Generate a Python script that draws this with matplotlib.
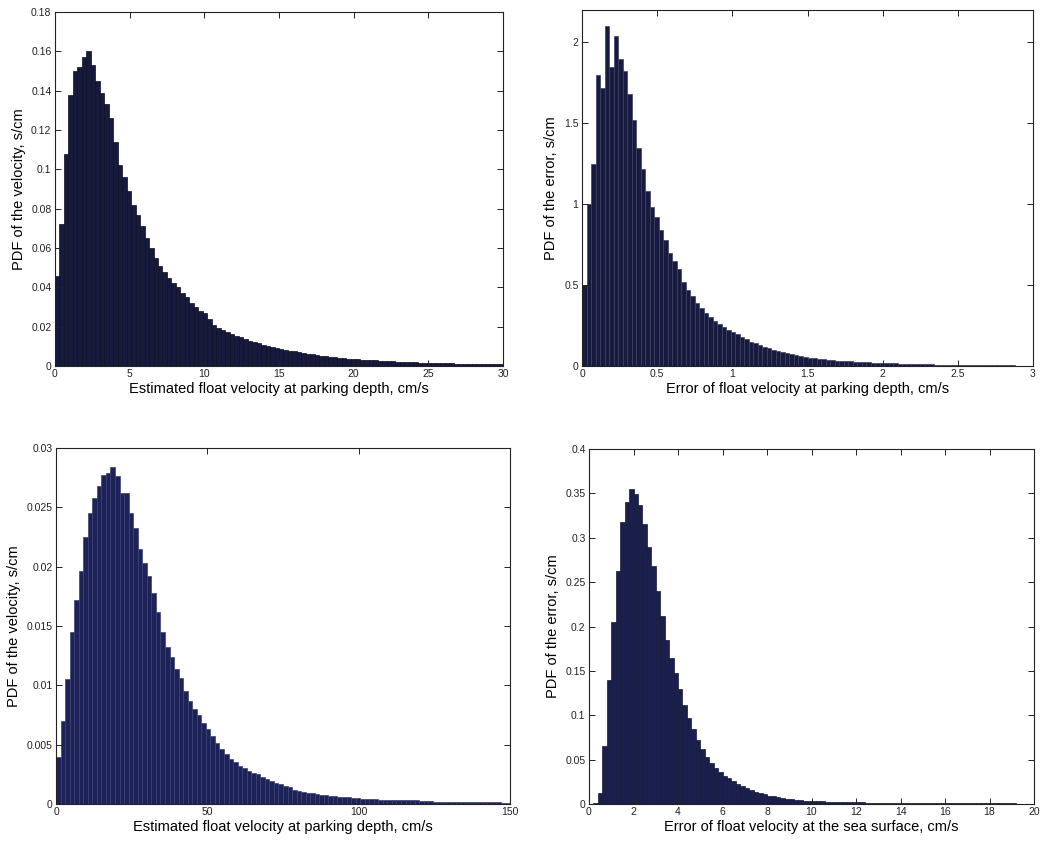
import numpy as np
import matplotlib
matplotlib.use("Agg")
import matplotlib.pyplot as plt
from matplotlib.ticker import FuncFormatter, MultipleLocator

plt.rcParams["font.family"] = ["Liberation Sans", "DejaVu Sans"]

# ---------------------------------------------------------------------------
# Histogram data (PDF per bin), 100 equal bins per panel
# ---------------------------------------------------------------------------
park_vel_range = (0.0, 30.0)
park_vel_pdf = [
    0.046, 0.072, 0.108, 0.138, 0.150, 0.152, 0.157, 0.160, 0.153, 0.145,
    0.139, 0.133, 0.126, 0.114, 0.102, 0.096, 0.089, 0.082, 0.077, 0.071,
    0.065, 0.060, 0.055, 0.051, 0.048, 0.045, 0.042, 0.040, 0.037, 0.035,
    0.032, 0.030, 0.028, 0.027, 0.024, 0.021, 0.0195, 0.0185, 0.0175, 0.0165,
    0.0155, 0.0148, 0.0135, 0.0128, 0.0122, 0.0116, 0.0108, 0.0102, 0.0097, 0.0092,
    0.0088, 0.0083, 0.0078, 0.0074, 0.0070, 0.0066, 0.0062, 0.0059, 0.0056, 0.0053,
    0.0050, 0.0047, 0.0045, 0.0043, 0.0040, 0.0038, 0.0036, 0.0034, 0.0032, 0.0031,
    0.0032, 0.0028, 0.0027, 0.0025, 0.0024, 0.0023, 0.0022, 0.0021, 0.0020, 0.0019,
    0.0018, 0.0017, 0.0017, 0.0016, 0.0015, 0.0015, 0.0014, 0.0013, 0.0013, 0.0012,
    0.0012, 0.0011, 0.0011, 0.0010, 0.0010, 0.0009, 0.0009, 0.0009, 0.0008, 0.0008,
]

park_err_range = (0.0, 3.0)
park_err_pdf = [
    0.50, 1.00, 1.25, 1.80, 1.72, 2.10, 1.85, 2.04, 1.90, 1.82,
    1.68, 1.52, 1.35, 1.22, 1.08, 0.98, 0.92, 0.84, 0.78, 0.70,
    0.65, 0.60, 0.52, 0.47, 0.43, 0.39, 0.36, 0.33, 0.30, 0.28,
    0.26, 0.24, 0.22, 0.21, 0.20, 0.18, 0.165, 0.15, 0.14, 0.13,
    0.12, 0.11, 0.10, 0.092, 0.085, 0.078, 0.072, 0.066, 0.061, 0.056,
    0.052, 0.048, 0.045, 0.042, 0.039, 0.036, 0.034, 0.032, 0.030, 0.028,
    0.026, 0.024, 0.023, 0.022, 0.021, 0.020, 0.019, 0.018, 0.017, 0.016,
    0.015, 0.014, 0.015, 0.013, 0.012, 0.011, 0.010, 0.0095, 0.009, 0.0085,
    0.008, 0.0075, 0.007, 0.0066, 0.0062, 0.0058, 0.0055, 0.0052, 0.0049, 0.0046,
    0.0043, 0.0040, 0.0038, 0.0036, 0.0034, 0.0032, 0.0030, 0.0029, 0.0028, 0.0027,
]

surf_vel_range = (0.0, 150.0)
surf_vel_pdf = [
    0.0040, 0.0070, 0.0105, 0.0145, 0.0172, 0.0196, 0.0225, 0.0245, 0.0258, 0.0268,
    0.0277, 0.0279, 0.0284, 0.0276, 0.0262, 0.0262, 0.0245, 0.0233, 0.0215, 0.0203,
    0.0192, 0.0178, 0.0162, 0.0145, 0.0132, 0.0124, 0.0114, 0.0106, 0.0095, 0.0087,
    0.0080, 0.0075, 0.0068, 0.0063, 0.0057, 0.0051, 0.0046, 0.0042, 0.0038, 0.0035,
    0.0032, 0.0030, 0.0028, 0.0026, 0.0025, 0.0023, 0.0021, 0.0019, 0.0018, 0.0017,
    0.0015, 0.0014, 0.0012, 0.0011, 0.0010, 0.00095, 0.0009, 0.00085, 0.0008, 0.00075,
    0.0007, 0.00065, 0.0006, 0.00058, 0.00055, 0.0005, 0.00048, 0.00045, 0.00042, 0.0004,
    0.00038, 0.00037, 0.00036, 0.00035, 0.00034, 0.00034, 0.00033, 0.00036, 0.00033, 0.0003,
    0.00026, 0.00024, 0.00022, 0.0002, 0.0002, 0.00018, 0.00018, 0.00017, 0.00016, 0.00016,
    0.00015, 0.00015, 0.00014, 0.00014, 0.00014, 0.00013, 0.00013, 0.00013, 0.00012, 0.00012,
]

surf_err_range = (0.0, 20.0)
surf_err_pdf = [
    0.0, 0.001, 0.012, 0.065, 0.140, 0.205, 0.262, 0.318, 0.340, 0.355,
    0.349, 0.337, 0.315, 0.290, 0.268, 0.240, 0.212, 0.185, 0.165, 0.148,
    0.130, 0.112, 0.097, 0.084, 0.072, 0.062, 0.053, 0.046, 0.040, 0.036,
    0.032, 0.029, 0.026, 0.023, 0.020, 0.018, 0.016, 0.014, 0.012, 0.0108,
    0.0095, 0.0085, 0.0075, 0.0067, 0.0060, 0.0054, 0.0048, 0.0043, 0.0039, 0.0036,
    0.0034, 0.0031, 0.0029, 0.0027, 0.0025, 0.0023, 0.0022, 0.0021, 0.0020, 0.0019,
    0.0018, 0.0017, 0.0016, 0.0016, 0.0015, 0.0015, 0.0014, 0.0014, 0.0013, 0.0013,
    0.0012, 0.0012, 0.0011, 0.0011, 0.0011, 0.0010, 0.0010, 0.0010, 0.0009, 0.0009,
    0.0009, 0.0008, 0.0008, 0.0008, 0.0008, 0.0008, 0.0007, 0.0007, 0.0007, 0.0007,
    0.0007, 0.0006, 0.0006, 0.0006, 0.0006, 0.0006, 0.0005, 0.0005, 0.0005, 0.0005,
]

panels = [
    dict(pdf=park_vel_pdf, rng=park_vel_range, ylim=0.18, xstep=5, ystep=0.02,
         xlabel="Estimated float velocity at parking depth, cm/s",
         ylabel="PDF of the velocity, s/cm",
         rect=[0.0528, 0.5648, 0.4304, 0.4209], face="#161a3c", edge="#0b0d20"),
    dict(pdf=park_err_pdf, rng=park_err_range, ylim=2.2, xstep=0.5, ystep=0.5,
         xlabel="Error of float velocity at parking depth, cm/s",
         ylabel="PDF of the error, s/cm",
         rect=[0.5591, 0.5648, 0.4332, 0.4233], face="#171b40", edge="#3c4060"),
    dict(pdf=surf_vel_pdf, rng=surf_vel_range, ylim=0.03, xstep=50, ystep=0.005,
         xlabel="Estimated float velocity at parking depth, cm/s",
         ylabel="PDF of the velocity, s/cm",
         rect=[0.0538, 0.0440, 0.4361, 0.4233], face="#1d2358", edge="#3a4274"),
    dict(pdf=surf_err_pdf, rng=surf_err_range, ylim=0.4, xstep=2, ystep=0.05,
         xlabel="Error of float velocity at the sea surface, cm/s",
         ylabel="PDF of the error, s/cm",
         rect=[0.5658, 0.0440, 0.4275, 0.4221], face="#1a1f4e", edge="#141838"),
]

fmt = FuncFormatter(lambda v, _: "%g" % round(v, 6))

fig = plt.figure(figsize=(10.41, 8.41), dpi=100)

for p in panels:
    ax = fig.add_axes(p["rect"])
    vals = np.asarray(p["pdf"])
    lo, hi = p["rng"]
    edges = np.linspace(lo, hi, len(vals) + 1)
    ax.bar(edges[:-1], vals, width=np.diff(edges), align="edge",
           color=p["face"], edgecolor=p["edge"], linewidth=0.5)
    ax.set_xlim(lo, hi)
    ax.set_ylim(0, p["ylim"])
    ax.xaxis.set_major_locator(MultipleLocator(p["xstep"]))
    ax.yaxis.set_major_locator(MultipleLocator(p["ystep"]))
    ax.xaxis.set_major_formatter(fmt)
    ax.yaxis.set_major_formatter(fmt)
    ax.tick_params(direction="in", length=4, width=0.7, labelsize=7.5,
                   top=True, right=True, pad=2.5, colors="#222222")
    for s in ax.spines.values():
        s.set_linewidth(0.8)
        s.set_color("#222222")
    ax.set_xlabel(p["xlabel"], fontsize=10.5, labelpad=1.5)
    ax.set_ylabel(p["ylabel"], fontsize=10.5, labelpad=4)

fig.savefig("out.png", dpi=100)
